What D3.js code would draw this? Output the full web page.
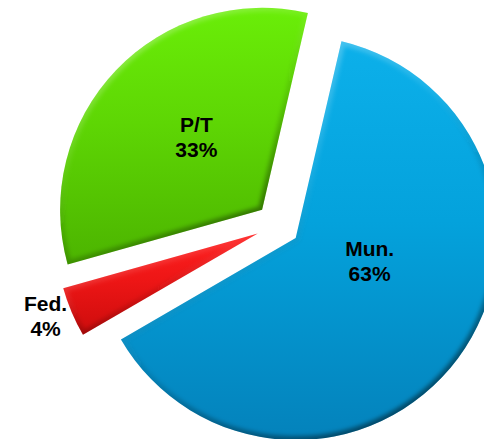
<!DOCTYPE html>
<html>
<head>
<meta charset="utf-8">
<script src="https://cdn.jsdelivr.net/npm/d3@7"></script>
<style>
  body { margin: 0; background: #fff; }
  svg { display: block; }
  .lbl { font-family: "Liberation Sans", Arial, sans-serif; font-weight: bold; font-size: 21px; fill: #000; }
</style>
</head>
<body>
<svg id="pie_svg"></svg>
<script>
// chart data
const categories = ['Mun.', 'Fed.', 'P/T']
const values = [63, 4, 33]
const pctLabels = ['63%', '4%', '33%']

// styling
const colors = {
	'Mun.': ['#0cb0ea', '#04a2dc', '#0482bb'],
	'Fed.': ['#ff2020', '#ee1616', '#cc0c0c'],
	'P/T': ['#6aee08', '#5ed604', '#4cb400']
}
// label placement: radius factor of the slice + small nudge (Excel "best fit")
const labelPos = {
	'Mun.': { k: 0.40, dx: 9, dy: -18, anchor: 'middle' },
	'Fed.': { k: 1.14, dx: 0, dy: 0, anchor: 'middle' },
	'P/T': { k: 0.45, dx: 0, dy: -3, anchor: 'middle' }
}

const width = 484, height = 439
const cx = 278, cy = 225
const radius = 202
const explode = 22
const startDeg = 13.1

const svg = d3.select('#pie_svg')
	.attr('width', width)
	.attr('height', height)

const defs = svg.append('defs')

const pie = d3.pie()
	.sort(null)
	.startAngle(startDeg * Math.PI / 180)
	.endAngle(startDeg * Math.PI / 180 + 2 * Math.PI)
	.value(d => d[1])
const data_ready = pie(categories.map((c, i) => [c, values[i]]))

const arc = d3.arc()
	.innerRadius(0)
	.outerRadius(radius)

// soft blur for the bevel edge
defs.append('filter').attr('id', 'soft')
	.attr('x', '-10%').attr('y', '-10%').attr('width', '120%').attr('height', '120%')
	.append('feGaussianBlur').attr('stdDeviation', 2)

// bevel stroke: light at top-left, dark at bottom-right
const bev = defs.append('linearGradient').attr('id', 'bevel')
	.attr('x1', '0').attr('y1', '0').attr('x2', '0.6').attr('y2', '1')
bev.append('stop').attr('offset', '0%').attr('stop-color', '#fff').attr('stop-opacity', 0.45)
bev.append('stop').attr('offset', '45%').attr('stop-color', '#fff').attr('stop-opacity', 0.08)
bev.append('stop').attr('offset', '65%').attr('stop-color', '#000').attr('stop-opacity', 0.1)
bev.append('stop').attr('offset', '100%').attr('stop-color', '#000').attr('stop-opacity', 0.45)

const g = svg.append('g')
	.attr('transform', `translate(${cx},${cy})`)

const slices = g.selectAll('.arc')
	.data(data_ready)
	.enter()
	.append('g')
	.attr('class', 'arc')
	.attr('transform', d => {
		const mid = (d.startAngle + d.endAngle) / 2
		return `translate(${explode * Math.sin(mid)},${-explode * Math.cos(mid)})`
	})

slices.each(function (d, i) {
	const name = d.data[0]
	const c = colors[name]
	const grad = defs.append('linearGradient')
		.attr('id', 'fill' + i)
		.attr('x1', 0).attr('y1', 0).attr('x2', 0).attr('y2', 1)
	grad.append('stop').attr('offset', '0%').attr('stop-color', c[0])
	grad.append('stop').attr('offset', '45%').attr('stop-color', c[1])
	grad.append('stop').attr('offset', '100%').attr('stop-color', c[2])

	defs.append('clipPath').attr('id', 'clip' + i)
		.append('path').attr('d', arc(d))

	const s = d3.select(this)
	s.append('path')
		.attr('d', arc(d))
		.attr('fill', `url(#fill${i})`)
	// inner bevel
	s.append('g')
		.attr('clip-path', `url(#clip${i})`)
		.append('path')
		.attr('d', arc(d))
		.attr('fill', 'none')
		.attr('stroke', 'url(#bevel)')
		.attr('stroke-width', 8)
		.attr('stroke-linejoin', 'round')
		.attr('filter', 'url(#soft)')
})

// labels
slices.each(function (d, i) {
	const name = d.data[0]
	const p = labelPos[name]
	const lr = radius * p.k
	const lab = d3.arc().innerRadius(lr).outerRadius(lr)
	const [x, y] = lab.centroid(d)
	const t = d3.select(this).append('text')
		.attr('class', 'lbl')
		.attr('text-anchor', p.anchor)
		.attr('transform', `translate(${x + p.dx},${y + p.dy})`)
	t.append('tspan').attr('x', 0).attr('y', -12).text(name)
	t.append('tspan').attr('x', 0).attr('y', 13).text(pctLabels[i])
})
</script>
</body>
</html>
